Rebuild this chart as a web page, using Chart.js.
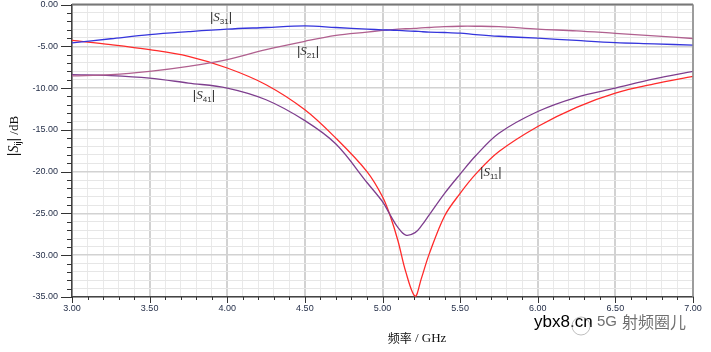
<!DOCTYPE html>
<html>
<head>
<meta charset="utf-8">
<script src="https://cdn.jsdelivr.net/npm/chart.js@4.4.1/dist/chart.umd.min.js"></script>
<style>
  html, body { margin: 0; padding: 0; background: #fff; }
  #wrap { width: 711px; height: 352px; position: relative; }
</style>
</head>
<body>
<div id="wrap"><canvas id="grafica"></canvas></div>
<script>
// frequency points (GHz)
const freqs = [3.0, 3.25, 3.5, 3.75, 4.0, 4.25, 4.5, 4.7, 4.9, 5.0, 5.05, 5.1, 5.15, 5.21, 5.25, 5.3, 5.4, 5.5, 5.6, 5.75, 6.0, 6.25, 6.5, 6.75, 7.0];

// |Sij| in dB
const s11 = [-4.3, -4.8, -5.4, -6.2, -7.6, -9.6, -12.6, -16.0, -20.0, -23.0, -25.3, -28.3, -32.0, -34.9, -32.8, -29.9, -25.3, -22.6, -20.3, -17.6, -14.6, -12.3, -10.6, -9.5, -8.6];
const s21 = [-8.55, -8.4, -8.0, -7.4, -6.6, -5.4, -4.4, -3.7, -3.3, -3.1, -3.0, -2.95, -2.9, -2.85, -2.8, -2.75, -2.65, -2.6, -2.6, -2.65, -2.95, -3.15, -3.45, -3.75, -4.07];
const s31 = [-4.6, -4.1, -3.6, -3.25, -2.95, -2.75, -2.55, -2.75, -2.95, -3.03, -3.07, -3.1, -3.15, -3.2, -3.25, -3.3, -3.35, -3.43, -3.6, -3.8, -4.03, -4.3, -4.55, -4.7, -4.87];
const s41 = [-8.4, -8.5, -8.8, -9.4, -10.0, -11.4, -13.9, -16.7, -21.3, -23.6, -25.2, -26.7, -27.6, -27.3, -26.5, -25.2, -22.6, -20.3, -18.1, -15.4, -12.8, -11.1, -10.0, -8.9, -8.0];

// curve tags: subscript, and where they sit (GHz, dB)
const tagSubs = ['31', '21', '41', '11'];
const tagFreqs = [3.94, 4.50, 3.83, 5.68];
const tagDbs = [-1.4, -5.5, -10.7, -19.9];

const xTitle = ['频率', ' / GHz'];
const watermark = ['ybx8.cn', '5G', '射频圈儿'];

const pts = arr => freqs.map((f, i) => ({ x: f, y: arr[i] }));

function serie(data, color) {
  return {
    data: pts(data),
    borderColor: color,
    borderWidth: 1.3,
    pointRadius: 0,
    tension: 0.35,
    fill: false
  };
}

function drawS(ctx, x, y, sub, size) {
  // draws |S_sub| with left edge at x, baseline at y; returns end x
  ctx.textBaseline = 'alphabetic';
  ctx.textAlign = 'left';
  ctx.font = size + 'px "Liberation Sans"';
  ctx.fillText('|', x, y);
  x += ctx.measureText('|').width;
  ctx.font = 'italic ' + size + 'px "Liberation Serif"';
  ctx.fillText('S', x, y);
  x += ctx.measureText('S').width;
  ctx.font = Math.round(size * 0.62) + 'px "Liberation Sans"';
  ctx.fillText(sub, x, y + size * 0.22);
  x += ctx.measureText(sub).width;
  ctx.font = size + 'px "Liberation Sans"';
  ctx.fillText('|', x, y);
  x += ctx.measureText('|').width;
  return x;
}

function widthS(ctx, sub, size) {
  ctx.font = size + 'px "Liberation Sans"';
  let w = ctx.measureText('|').width * 2;
  ctx.font = 'italic ' + size + 'px "Liberation Serif"';
  w += ctx.measureText('S').width;
  ctx.font = Math.round(size * 0.62) + 'px "Liberation Sans"';
  w += ctx.measureText(sub).width;
  return w;
}

const extras = {
  id: 'extras',
  afterDatasetsDraw(chart) {
    const ctx = chart.ctx;
    const xs = chart.scales.x, ys = chart.scales.y;
    const a = chart.chartArea;
    ctx.save();

    // frame top + right
    ctx.strokeStyle = '#777';
    ctx.lineWidth = 2;
    ctx.beginPath();
    ctx.moveTo(a.left, a.top);
    ctx.lineTo(a.right, a.top);
    ctx.stroke();
    ctx.lineWidth = 1.5;
    ctx.strokeStyle = '#8a8a8a';
    ctx.beginPath();
    ctx.moveTo(a.right, a.top);
    ctx.lineTo(a.right, a.bottom);
    ctx.stroke();

    // tick marks
    ctx.strokeStyle = '#333';
    ctx.lineWidth = 1;
    for (let v = -35; v <= 0; v++) {
      const py = Math.round(ys.getPixelForValue(v)) + 0.5;
      const len = v % 5 === 0 ? 11 : 5;
      ctx.beginPath();
      ctx.moveTo(a.left - len, py);
      ctx.lineTo(a.left, py);
      ctx.stroke();
    }
    for (let i = 0; i <= 40; i++) {
      const px = Math.round(xs.getPixelForValue(3 + i * 0.1)) + 0.5;
      const len = i % 5 === 0 ? 6 : 3;
      ctx.beginPath();
      ctx.moveTo(px, a.bottom);
      ctx.lineTo(px, a.bottom + len);
      ctx.stroke();
    }

    // curve tags
    ctx.fillStyle = '#333';
    tagSubs.forEach((s, i) => {
      drawS(ctx, xs.getPixelForValue(tagFreqs[i]) - 8, ys.getPixelForValue(tagDbs[i]) + 5, s, 13);
    });

    // y title, rotated
    ctx.save();
    ctx.translate(18, 136);
    ctx.rotate(-Math.PI / 2);
    ctx.fillStyle = '#111';
    const w = widthS(ctx, 'ij', 14);
    ctx.font = '13px "Liberation Serif"';
    const restW = ctx.measureText(' /dB').width;
    const e2 = drawS(ctx, -(w + restW) / 2, 0, 'ij', 14);
    ctx.font = '13px "Liberation Serif"';
    ctx.fillText(' /dB', e2, 0);
    ctx.restore();

    // x title
    ctx.fillStyle = '#111';
    ctx.textBaseline = 'middle';
    ctx.textAlign = 'left';
    ctx.font = '12px "Noto Sans CJK SC"';
    const w1 = ctx.measureText(xTitle[0]).width;
    ctx.font = '13px "Liberation Serif"';
    const w2 = ctx.measureText(xTitle[1]).width;
    const tx = 417 - (w1 + w2) / 2;
    ctx.font = '12px "Noto Sans CJK SC"';
    ctx.fillText(xTitle[0], tx, 338);
    ctx.font = '13px "Liberation Serif"';
    ctx.fillText(xTitle[1], tx + w1, 339);

    // watermark
    ctx.font = '17px "Liberation Sans"';
    ctx.fillStyle = '#000';
    ctx.fillText(watermark[0], 534, 322);
    ctx.strokeStyle = 'rgba(150,150,150,0.6)';
    ctx.lineWidth = 1;
    ctx.beginPath();
    ctx.arc(581, 326, 9, 0, Math.PI * 2);
    ctx.stroke();
    ctx.fillStyle = '#707070';
    ctx.font = '15px "Liberation Sans"';
    ctx.fillText(watermark[1], 597, 322);
    ctx.font = '16px "Noto Sans CJK SC"';
    ctx.fillText(watermark[2], 622, 322);

    ctx.restore();
  }
};

const ctx = document.getElementById('grafica').getContext('2d');
const tickFont = { size: 9, family: '"Liberation Sans", Arial', lineHeight: 1 };

new Chart(ctx, {
  type: 'line',
  data: {
    datasets: [
      serie(s31, '#3535dc'),
      serie(s21, '#b0608f'),
      serie(s41, '#7e3e8e'),
      serie(s11, '#ff2a2a')
    ]
  },
  options: {
    responsive: true,
    maintainAspectRatio: false,
    animation: false,
    layout: { padding: { top: 0, right: 18, left: 0, bottom: 0 } },
    plugins: { legend: { display: false }, tooltip: { enabled: false } },
    scales: {
      x: {
        type: 'linear',
        min: 3,
        max: 7,
        afterFit: s => { s.height = 55; },
        ticks: {
          stepSize: 0.1,
          autoSkip: false,
          maxRotation: 0,
          padding: 0,
          color: '#26304a',
          font: tickFont,
          callback: v => Math.round(v * 10) % 5 === 0 ? Number(v).toFixed(2) : ''
        },
        grid: {
          tickLength: 7,
          tickColor: 'transparent',
          color: c => Math.round(c.tick.value * 10) % 5 === 0 ? '#d2d2d2' : '#e9e9e9',
          lineWidth: c => Math.round(c.tick.value * 10) % 5 === 0 ? 2 : 1
        },
        border: { color: '#444', width: 1.5 }
      },
      y: {
        min: -35,
        max: 0,
        afterFit: s => { s.width = 72; },
        ticks: {
          stepSize: 1,
          autoSkip: false,
          padding: 0,
          color: '#26304a',
          font: tickFont,
          callback: v => v % 5 === 0 ? Number(v).toFixed(2) : ''
        },
        grid: {
          tickLength: 14,
          tickColor: 'transparent',
          color: c => c.tick.value % 5 === 0 ? '#d2d2d2' : '#e6e6e6',
          lineWidth: c => c.tick.value % 5 === 0 ? 1.5 : 1
        },
        border: { color: '#444', width: 1.5 }
      }
    }
  },
  plugins: [extras]
});
</script>
</body>
</html>
